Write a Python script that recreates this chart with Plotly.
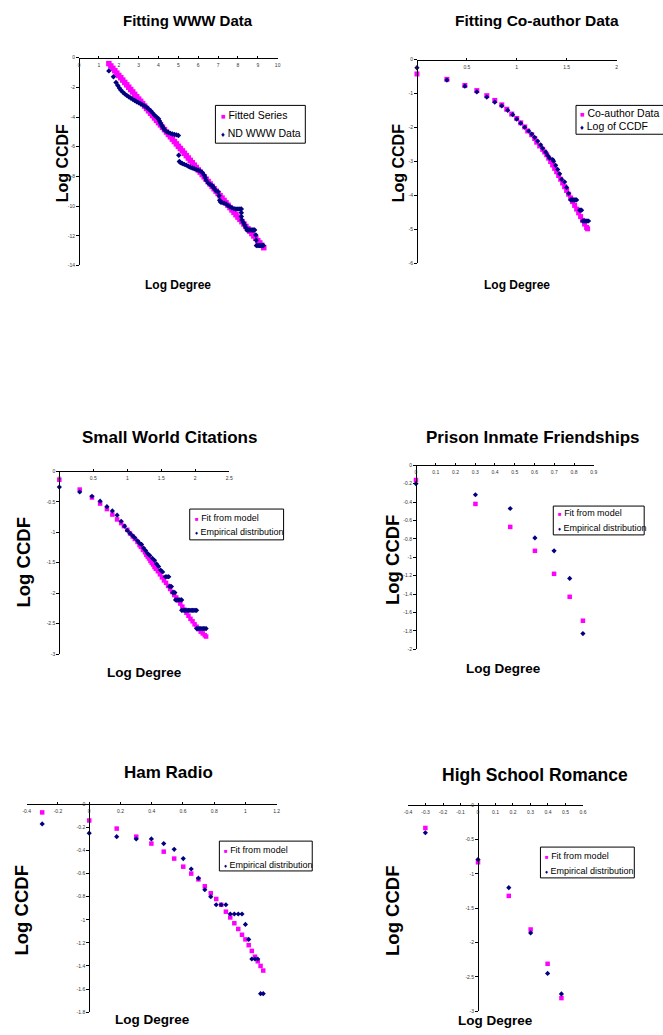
import plotly.graph_objects as go

W, H = 663, 1035
FONT = "Liberation Sans, Arial, Helvetica, sans-serif"
MAGENTA = "#FF00FF"
NAVY = "#000080"

# ---------------- data ----------------
# Panel 1: Fitting WWW Data (natural log)
www_fit_x = [1.5, 1.6, 1.7, 1.8, 1.9, 2.0, 2.1, 2.2, 2.3, 2.4, 2.5, 2.6, 2.7, 2.8, 2.9, 3.0, 3.1, 3.2, 3.3, 3.4,
             3.5, 3.6, 3.7, 3.8, 3.9, 4.0, 4.1, 4.2, 4.3, 4.4, 4.5, 4.6, 4.7, 4.8, 4.9, 5.0, 5.1, 5.2, 5.3, 5.4,
             5.5, 5.6, 5.7, 5.8, 5.9, 6.0, 6.1, 6.2, 6.3, 6.4, 6.5, 6.6, 6.7, 6.8, 6.9, 7.0, 7.1, 7.2, 7.3, 7.4,
             7.5, 7.6, 7.7, 7.8, 7.9, 8.0, 8.1, 8.2, 8.3, 8.4, 8.5, 8.6, 8.7, 8.8, 8.9, 9.0, 9.1, 9.2, 9.3]
www_fit_y = [-0.40, -0.56, -0.72, -0.88, -1.04, -1.20, -1.35, -1.51, -1.67, -1.83, -1.99, -2.15, -2.31, -2.47,
             -2.63, -2.79, -2.94, -3.10, -3.26, -3.42, -3.58, -3.74, -3.90, -4.06, -4.22, -4.38, -4.53, -4.69,
             -4.85, -5.01, -5.17, -5.33, -5.49, -5.65, -5.81, -5.97, -6.12, -6.28, -6.44, -6.60, -6.76, -6.92,
             -7.08, -7.24, -7.40, -7.56, -7.71, -7.87, -8.03, -8.19, -8.35, -8.51, -8.67, -8.83, -8.99, -9.15,
             -9.30, -9.46, -9.62, -9.78, -9.94, -10.10, -10.26, -10.42, -10.58, -10.74, -10.89, -11.05, -11.21,
             -11.37, -11.53, -11.69, -11.85, -12.01, -12.17, -12.33, -12.48, -12.64, -12.80]
www_emp_x = [1.50, 1.73, 1.86, 1.95, 2.03, 2.10, 2.20, 2.30, 2.40, 2.50, 2.60, 2.70, 2.80, 2.90, 3.00, 3.10,
             3.20, 3.30, 3.40, 3.50, 3.60, 3.70, 3.80, 3.90, 4.00, 4.05, 4.10, 4.15, 4.20, 4.25, 4.30, 4.40,
             4.50, 4.60, 4.70, 4.80, 4.90, 5.00, 5.02, 5.05, 5.10, 5.20, 5.30, 5.40, 5.50, 5.60, 5.70, 5.80,
             5.90, 6.00, 6.10, 6.20, 6.30, 6.35, 6.40, 6.50, 6.60, 6.70, 6.75, 6.80, 6.90, 7.00, 7.05, 7.08,
             7.12, 7.20, 7.30, 7.40, 7.50, 7.60, 7.70, 7.80, 7.90, 8.00, 8.10, 8.17, 8.17, 8.17, 8.20, 8.27,
             8.34, 8.40, 8.45, 8.50, 8.55, 8.60, 8.65, 8.70, 8.75, 8.80, 8.84, 8.90, 8.92, 8.93, 9.00, 9.05,
             9.10, 9.15, 9.20, 9.25, 9.28]
www_emp_y = [-0.89, -1.29, -1.67, -1.88, -2.05, -2.18, -2.32, -2.44, -2.54, -2.63, -2.71, -2.80, -2.88, -2.97,
             -3.04, -3.11, -3.18, -3.25, -3.34, -3.46, -3.58, -3.72, -3.88, -4.00, -4.12, -4.26, -4.40, -4.53,
             -4.65, -4.76, -4.85, -4.97, -5.04, -5.10, -5.14, -5.17, -5.20, -5.24, -6.58, -7.00, -7.06, -7.13,
             -7.19, -7.24, -7.31, -7.38, -7.44, -7.49, -7.54, -7.58, -7.64, -7.74, -7.92, -8.08, -8.25, -8.45,
             -8.55, -8.62, -8.72, -8.82, -8.98, -9.04, -9.30, -9.60, -9.72, -9.76, -9.80, -9.86, -9.96, -10.05,
             -10.12, -10.17, -10.20, -10.20, -10.20, -10.20, -10.45, -10.70, -10.94, -11.10, -11.27, -11.45,
             -11.61, -11.61, -11.61, -11.61, -11.61, -11.61, -11.61, -11.61, -11.61, -11.95, -12.30, -12.66,
             -12.66, -12.66, -12.66, -12.66, -12.66, -12.66, -12.66]
www_xtick_vals = [0, 1, 2, 3, 4, 5, 6, 7, 8, 9, 10]
www_xtick_text = ["0", "1", "2", "3", "4", "5", "6", "7", "8", "9", "10"]
www_ytick_vals = [0, -2, -4, -6, -8, -10, -12, -14]
www_ytick_text = ["0", "-2", "-4", "-6", "-8", "-10", "-12", "-14"]

# Panel 2: Fitting Co-author Data
coauth_fit_x = [0, 0.30, 0.48, 0.60, 0.70, 0.78, 0.85, 0.90, 0.95, 1.00, 1.04, 1.08, 1.11, 1.15, 1.18, 1.20,
                1.23, 1.26, 1.28, 1.30, 1.32, 1.34, 1.36, 1.38, 1.40, 1.42, 1.44, 1.46, 1.48, 1.50, 1.52, 1.54,
                1.56, 1.58, 1.60, 1.62, 1.64, 1.66, 1.68, 1.70, 1.71]
coauth_fit_y = [-0.42, -0.58, -0.76, -0.91, -1.06, -1.20, -1.33, -1.46, -1.60, -1.73, -1.86, -1.98, -2.10,
                -2.21, -2.32, -2.43, -2.54, -2.64, -2.72, -2.80, -2.90, -3.00, -3.10, -3.20, -3.30, -3.41,
                -3.52, -3.63, -3.74, -3.85, -3.96, -4.07, -4.18, -4.29, -4.40, -4.51, -4.62, -4.73, -4.84,
                -4.94, -4.98]
coauth_emp_x = [0, 0.30, 0.48, 0.60, 0.70, 0.78, 0.85, 0.91, 0.96, 1.00, 1.04, 1.08, 1.12, 1.15, 1.18, 1.21,
                1.24, 1.26, 1.29, 1.31, 1.33, 1.36, 1.37, 1.39, 1.41, 1.43, 1.45, 1.48, 1.50, 1.52, 1.54, 1.55,
                1.56, 1.57, 1.58, 1.59, 1.60, 1.63, 1.64, 1.65, 1.66, 1.67, 1.68, 1.69, 1.70, 1.71, 1.72]
coauth_emp_y = [-0.24, -0.60, -0.78, -0.95, -1.10, -1.25, -1.36, -1.49, -1.62, -1.75, -1.87, -1.99, -2.10,
                -2.19, -2.29, -2.40, -2.51, -2.61, -2.72, -2.82, -2.90, -2.94, -2.99, -3.11, -3.23, -3.36,
                -3.52, -3.60, -3.76, -3.94, -4.13, -4.13, -4.13, -4.13, -4.13, -4.13, -4.13, -4.43, -4.43,
                -4.43, -4.75, -4.75, -4.75, -4.75, -4.75, -4.75, -4.75]
coauth_xtick_vals = [0, 0.5, 1, 1.5, 2]
coauth_xtick_text = ["0", "0.5", "1", "1.5", "2"]
coauth_ytick_vals = [0, -1, -2, -3, -4, -5, -6]
coauth_ytick_text = ["0", "-1", "-2", "-3", "-4", "-5", "-6"]

# Panel 3: Small World Citations
sw_fit_x = [0, 0.30, 0.48, 0.60, 0.70, 0.78, 0.85, 0.91, 0.95, 1.00, 1.04, 1.08, 1.11, 1.15, 1.18, 1.20, 1.23,
            1.26, 1.28, 1.30, 1.32, 1.34, 1.36, 1.38, 1.40, 1.42, 1.45, 1.48, 1.51, 1.54, 1.57, 1.60, 1.63,
            1.66, 1.69, 1.72, 1.75, 1.78, 1.81, 1.84, 1.87, 1.90, 1.93, 1.96, 1.99, 2.02, 2.05, 2.08, 2.11,
            2.14, 2.16]
sw_fit_y = [-0.14, -0.30, -0.43, -0.53, -0.62, -0.71, -0.79, -0.85, -0.90, -0.96, -1.02, -1.07, -1.11, -1.16,
            -1.21, -1.24, -1.29, -1.33, -1.37, -1.40, -1.43, -1.47, -1.50, -1.53, -1.57, -1.60, -1.64, -1.69,
            -1.74, -1.79, -1.83, -1.88, -1.93, -1.98, -2.03, -2.07, -2.12, -2.17, -2.22, -2.27, -2.32, -2.37,
            -2.42, -2.46, -2.51, -2.55, -2.59, -2.63, -2.66, -2.69, -2.71]
sw_emp_x = [0, 0.30, 0.48, 0.60, 0.70, 0.78, 0.85, 0.91, 0.96, 1.00, 1.04, 1.08, 1.11, 1.15, 1.18, 1.21, 1.24,
            1.27, 1.30, 1.33, 1.37, 1.40, 1.43, 1.46, 1.49, 1.52, 1.56, 1.58, 1.60, 1.61, 1.62, 1.635, 1.65,
            1.67, 1.685, 1.70, 1.71, 1.73, 1.75, 1.77, 1.79, 1.80, 1.80, 1.82, 1.84, 1.86, 1.88, 1.90, 1.92,
            1.94, 1.96, 1.98, 2.00, 2.02, 2.02, 2.04, 2.06, 2.08, 2.10, 2.12, 2.14, 2.16]
sw_emp_y = [-0.26, -0.34, -0.41, -0.49, -0.58, -0.65, -0.72, -0.82, -0.90, -0.97, -1.02, -1.06, -1.09, -1.14,
            -1.18, -1.20, -1.26, -1.30, -1.35, -1.38, -1.43, -1.46, -1.52, -1.56, -1.62, -1.65, -1.73, -1.73,
            -1.73, -1.73, -1.89, -1.89, -1.89, -1.99, -1.99, -1.99, -2.11, -2.11, -2.11, -2.11, -2.11, -2.11,
            -2.28, -2.28, -2.28, -2.28, -2.28, -2.28, -2.28, -2.28, -2.28, -2.28, -2.28, -2.28, -2.58, -2.58,
            -2.58, -2.58, -2.58, -2.58, -2.58, -2.58]
sw_xtick_vals = [0, 0.5, 1, 1.5, 2, 2.5]
sw_xtick_text = ["0", "0.5", "1", "1.5", "2", "2.5"]
sw_ytick_vals = [0, -0.5, -1, -1.5, -2, -2.5, -3]
sw_ytick_text = ["0", "-0.5", "-1", "-1.5", "-2", "-2.5", "-3"]

# Panel 4: Prison Inmate Friendships
prison_fit_x = [0, 0.301, 0.477, 0.602, 0.699, 0.778, 0.845]
prison_fit_y = [-0.16, -0.42, -0.67, -0.93, -1.18, -1.43, -1.69]
prison_emp_x = [0, 0.301, 0.477, 0.602, 0.699, 0.778, 0.845]
prison_emp_y = [-0.20, -0.32, -0.47, -0.79, -0.93, -1.23, -1.83]
prison_xtick_vals = [0, 0.1, 0.2, 0.3, 0.4, 0.5, 0.6, 0.7, 0.8, 0.9]
prison_xtick_text = ["0", "0.1", "0.2", "0.3", "0.4", "0.5", "0.6", "0.7", "0.8", "0.9"]
prison_ytick_vals = [0, -0.2, -0.4, -0.6, -0.8, -1, -1.2, -1.4, -1.6, -1.8, -2]
prison_ytick_text = ["0", "-0.2", "-0.4", "-0.6", "-0.8", "-1", "-1.2", "-1.4", "-1.6", "-1.8", "-2"]

# Panel 5: Ham Radio
ham_x = [-0.301, 0, 0.176, 0.301, 0.398, 0.477, 0.544, 0.602, 0.653, 0.699, 0.740, 0.778, 0.813, 0.845,
         0.875, 0.903, 0.929, 0.954, 0.978, 1.000, 1.021, 1.041, 1.061, 1.079, 1.097, 1.114]
ham_fit_y = [-0.07, -0.14, -0.21, -0.28, -0.34, -0.41, -0.47, -0.54, -0.60, -0.65, -0.71, -0.77, -0.82,
             -0.87, -0.93, -0.98, -1.03, -1.08, -1.13, -1.17, -1.22, -1.27, -1.32, -1.36, -1.40, -1.44]
ham_emp_y = [-0.17, -0.25, -0.28, -0.30, -0.30, -0.34, -0.39, -0.47, -0.56, -0.64, -0.74, -0.80, -0.87,
             -0.87, -0.87, -0.95, -0.95, -0.95, -0.95, -1.04, -1.17, -1.34, -1.34, -1.34, -1.64, -1.64]
ham_xtick_vals = [-0.4, -0.2, 0, 0.2, 0.4, 0.6, 0.8, 1, 1.2]
ham_xtick_text = ["-0.4", "-0.2", "0", "0.2", "0.4", "0.6", "0.8", "1", "1.2"]
ham_ytick_vals = [0, -0.2, -0.4, -0.6, -0.8, -1, -1.2, -1.4, -1.6, -1.8]
ham_ytick_text = ["0", "-0.2", "-0.4", "-0.6", "-0.8", "-1", "-1.2", "-1.4", "-1.6", "-1.8"]

# Panel 6: High School Romance
hs_x = [-0.301, 0, 0.176, 0.301, 0.398, 0.477]
hs_fit_y = [-0.33, -0.83, -1.32, -1.81, -2.31, -2.81]
hs_emp_y = [-0.40, -0.79, -1.20, -1.86, -2.45, -2.75]
hs_xtick_vals = [-0.4, -0.3, -0.2, -0.1, 0, 0.1, 0.2, 0.3, 0.4, 0.5, 0.6]
hs_xtick_text = ["-0.4", "-0.3", "-0.2", "-0.1", "0", "0.1", "0.2", "0.3", "0.4", "0.5", "0.6"]
hs_ytick_vals = [0, -0.5, -1, -1.5, -2, -2.5, -3]
hs_ytick_text = ["0", "-0.5", "-1", "-1.5", "-2", "-2.5", "-3"]

# ---------------- layout specs (pixel positions) ----------------
panels = [
    dict(fx=www_fit_x, fy=www_fit_y, ex=www_emp_x, ey=www_emp_y,
         fname="Fitted Series", ename="ND WWW Data", title="Fitting WWW Data",
         box=(76, 277, 55, 264), xr=[0, 10], yr=[-14, 0],
         xt=(www_xtick_vals, www_xtick_text), yt=(www_ytick_vals, www_ytick_text),
         tpos=(186, 18, 15), ypos=(59, 161, 16), xpos=(176, 284, 12),
         lbox=(214, 305, 103, 141), lrows=(113, 131), lx=218, lfont=10.5, fs=5.5, es=4.2),
    dict(fx=coauth_fit_x, fy=coauth_fit_y, ex=coauth_emp_x, ey=coauth_emp_y,
         fname="Co-author Data", ename="Log of CCDF", title="Fitting Co-author Data",
         box=(418, 620, 57, 262), xr=[0, 2], yr=[-6, 0],
         xt=(coauth_xtick_vals, coauth_xtick_text), yt=(coauth_ytick_vals, coauth_ytick_text),
         tpos=(540, 18, 15.5), ypos=(399, 161, 16), xpos=(519, 284, 12),
         lbox=(579, 668, 103, 132), lrows=(111, 124), lx=581, lfont=10.5, fs=5, es=4),
    dict(fx=sw_fit_x, fy=sw_fit_y, ex=sw_emp_x, ey=sw_emp_y,
         fname="Fit from model", ename="Empirical distribution", title="Small World Citations",
         box=(56, 228, 471, 655), xr=[0, 2.5], yr=[-3, 0],
         xt=(sw_xtick_vals, sw_xtick_text), yt=(sw_ytick_vals, sw_ytick_text),
         tpos=(168, 437, 17), ypos=(20, 563, 18.5), xpos=(142, 673, 13.5),
         lbox=(188, 283, 509, 540), lrows=(518, 532), lx=191, lfont=9, fs=4.5, es=4),
    dict(fx=prison_fit_x, fy=prison_fit_y, ex=prison_emp_x, ey=prison_emp_y,
         fname="Fit from model", ename="Empirical distribution", title="Prison Inmate Friendships",
         box=(417, 597, 465, 650), xr=[0, 0.9], yr=[-2, 0],
         xt=(prison_xtick_vals, prison_xtick_text), yt=(prison_ytick_vals, prison_ytick_text),
         tpos=(535, 437, 17), ypos=(393, 560, 18.5), xpos=(506, 669, 13.5),
         lbox=(556, 648, 506, 535), lrows=(513, 528), lx=559, lfont=9, fs=4.5, es=4),
    dict(fx=ham_x, fy=ham_fit_y, ex=ham_x, ey=ham_emp_y,
         fname="Fit from model", ename="Empirical distribution", title="Ham Radio",
         box=(23, 276, 806, 1015), xr=[-0.4, 1.2], yr=[-1.8, 0],
         xt=(ham_xtick_vals, ham_xtick_text), yt=(ham_ytick_vals, ham_ytick_text),
         tpos=(167, 774, 17), ypos=(18, 913, 18.5), xpos=(150, 1022, 13.5),
         lbox=(218, 312, 843, 873), lrows=(852, 867), lx=221, lfont=9, fs=4.5, es=4),
    dict(fx=hs_x, fy=hs_fit_y, ex=hs_x, ey=hs_emp_y,
         fname="Fit from model", ename="Empirical distribution", title="High School Romance",
         box=(409, 586, 807, 1014), xr=[-0.4, 0.6], yr=[-3, 0],
         xt=(hs_xtick_vals, hs_xtick_text), yt=(hs_ytick_vals, hs_ytick_text),
         tpos=(537, 776, 17.5), ypos=(393, 913, 18.5), xpos=(497, 1023, 13.5),
         lbox=(543, 638, 849, 880), lrows=(858, 873), lx=546, lfont=9, fs=4.5, es=4),
]

fig = go.Figure()
layout = dict(
    width=W, height=H, margin=dict(l=0, r=0, t=0, b=0),
    paper_bgcolor="white", plot_bgcolor="white",
    font=dict(family=FONT, color="black"),
    showlegend=False,
    annotations=[], shapes=[],
)


def pxx(v):
    return v / W


def pxy(v):
    return 1 - v / H


for i, p in enumerate(panels, start=1):
    sx = "" if i == 1 else str(i)
    l, r, t, b = p["box"]
    xr, yr = p["xr"], p["yr"]
    ycross = (l + (0 - xr[0]) / (xr[1] - xr[0]) * (r - l)) / W

    layout["xaxis" + sx] = dict(
        domain=[pxx(l), pxx(r)], range=xr, anchor="free", position=pxy(t), side="bottom",
        showline=True, linecolor="black", linewidth=1, showgrid=False, zeroline=False,
        ticks="inside", ticklen=2, tickcolor="black", tickwidth=1,
        tickvals=p["xt"][0], ticktext=p["xt"][1], tickfont=dict(size=5, family=FONT, color="#333"),
        ticklabelstandoff=2, fixedrange=True,
    )
    layout["yaxis" + sx] = dict(
        domain=[pxy(b), pxy(t)], range=yr, anchor="free", position=ycross, side="left",
        showline=True, linecolor="black", linewidth=1, showgrid=False, zeroline=False,
        ticks="outside", ticklen=3, tickcolor="black", tickwidth=1,
        tickvals=p["yt"][0], ticktext=p["yt"][1], tickfont=dict(size=5, family=FONT, color="#333"),
        fixedrange=True,
    )

    fig.add_trace(go.Scatter(
        x=p["fx"], y=p["fy"], mode="markers", name=p["fname"],
        marker=dict(symbol="square", size=p["fs"], color=MAGENTA, line=dict(width=0)),
        xaxis="x" + sx, yaxis="y" + sx, cliponaxis=False, hoverinfo="skip",
    ))
    fig.add_trace(go.Scatter(
        x=p["ex"], y=p["ey"], mode="markers", name=p["ename"],
        marker=dict(symbol="diamond", size=p["es"], color=NAVY, line=dict(width=0)),
        xaxis="x" + sx, yaxis="y" + sx, cliponaxis=False, hoverinfo="skip",
    ))

    # titles / axis labels
    tx, ty, ts = p["tpos"]
    layout["annotations"].append(dict(
        text="<b>" + p["title"] + "</b>", x=pxx(tx), y=pxy(ty), xref="paper", yref="paper",
        xanchor="center", yanchor="middle", showarrow=False, font=dict(size=ts, family=FONT, color="black")))
    yx, yy, ys = p["ypos"]
    layout["annotations"].append(dict(
        text="<b>Log CCDF</b>", x=pxx(yx), y=pxy(yy), xref="paper", yref="paper", textangle=-90,
        xanchor="center", yanchor="middle", showarrow=False, font=dict(size=ys, family=FONT, color="black")))
    xx, xy, xs = p["xpos"]
    layout["annotations"].append(dict(
        text="<b>Log Degree</b>", x=pxx(xx), y=pxy(xy), xref="paper", yref="paper",
        xanchor="center", yanchor="middle", showarrow=False, font=dict(size=xs, family=FONT, color="black")))

    # legend box (drawn like the original spreadsheet legend)
    bl, br, bt, bb = p["lbox"]
    layout["shapes"].append(dict(
        type="rect", xref="paper", yref="paper", x0=pxx(bl), x1=pxx(br), y0=pxy(bb), y1=pxy(bt),
        line=dict(color="black", width=1), fillcolor="white", layer="above"))
    rows = [(MAGENTA, "&#9632;", p["fname"]), (NAVY, "&#9830;", p["ename"])]
    for (col, sym, name), ry in zip(rows, p["lrows"]):
        layout["annotations"].append(dict(
            text=f'<span style="color:{col};font-size:{p["lfont"] - 3}px">{sym}</span> {name}',
            x=pxx(p["lx"]), y=pxy(ry), xref="paper", yref="paper", xanchor="left", yanchor="middle",
            showarrow=False, align="left", font=dict(size=p["lfont"], family=FONT, color="black")))

fig.update_layout(**layout)
fig.write_html(
    "out.html",
    config={"displayModeBar": False, "staticPlot": True},
    post_script="document.body.style.margin='0px';document.body.style.overflow='hidden';",
)
